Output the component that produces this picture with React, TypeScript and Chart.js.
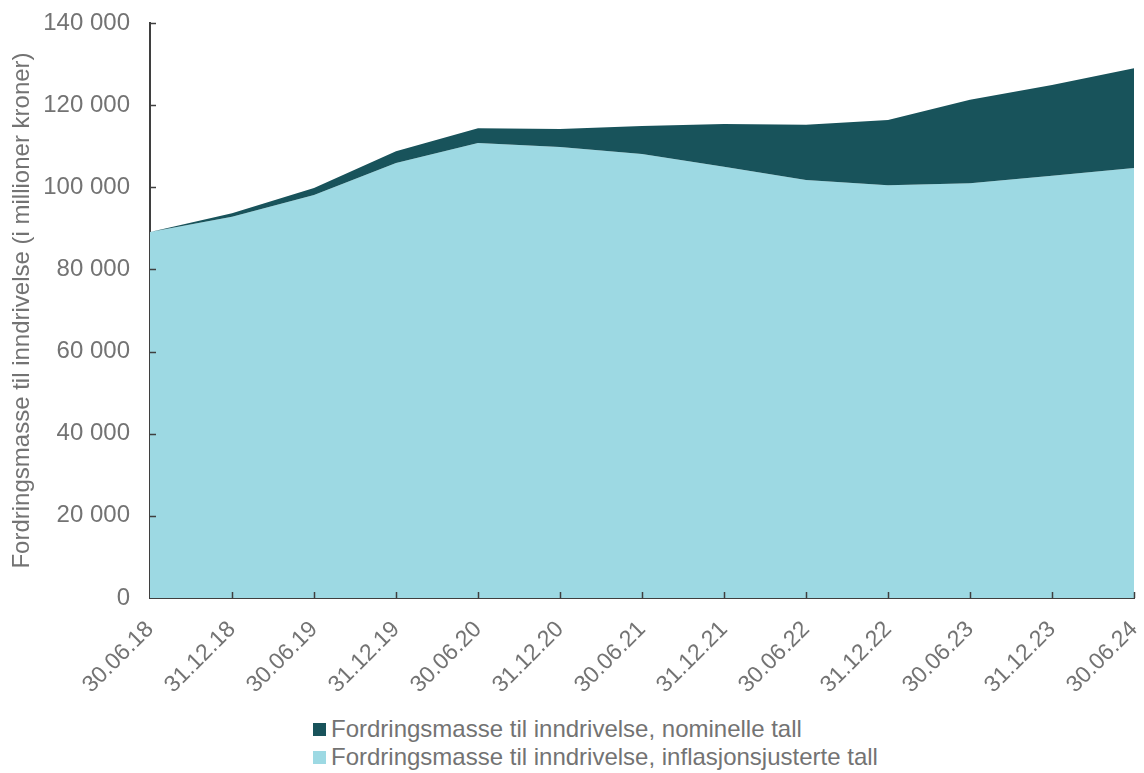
import React, { useEffect, useRef } from "react";
import { Chart, registerables } from "chart.js";

Chart.register(...registerables);

const categories = [
  "30.06.18", "31.12.18", "30.06.19", "31.12.19", "30.06.20", "31.12.20", "30.06.21",
  "31.12.21", "30.06.22", "31.12.22", "30.06.23", "31.12.23", "30.06.24",
];
const nominal = [89100, 93700, 99800, 108800, 114400, 114200, 114900, 115400, 115200, 116400, 121300, 124900, 129000];
const inflationAdjusted = [89100, 92800, 98100, 105900, 110800, 109800, 108100, 105000, 101800, 100500, 101000, 102800, 104700];
const yTicks = [0, 20000, 40000, 60000, 80000, 100000, 120000, 140000];

const seriesNames = [
  "Fordringsmasse til inndrivelse, nominelle tall",
  "Fordringsmasse til inndrivelse, inflasjonsjusterte tall",
];
const yTitle = "Fordringsmasse til inndrivelse (i millioner kroner)";

const DARK = "#18535B";
const LIGHT = "#9DD9E3";
const TEXT = "#737373";
const AXIS = "#3f3f3f";
const FONT = "'Liberation Sans', Arial, sans-serif";

const fmt = (v: number) => String(v).replace(/\B(?=(\d{3})+(?!\d))/g, " ");

const innerTicks = {
  id: "innerTicks",
  afterDraw(chart: any) {
    const { ctx, chartArea, scales } = chart;
    ctx.save();
    ctx.strokeStyle = AXIS;
    ctx.lineWidth = 1.5;
    const y = scales.y;
    yTicks.forEach((t) => {
      if (t === 0) return;
      const py = Math.round(y.getPixelForValue(t)) + 0.5;
      ctx.beginPath();
      ctx.moveTo(chartArea.left, py);
      ctx.lineTo(chartArea.left + 6, py);
      ctx.stroke();
    });
    const x = scales.x;
    categories.forEach((_, i) => {
      if (i === 0) return;
      const px = Math.round(x.getPixelForValue(i)) + 0.5;
      ctx.beginPath();
      ctx.moveTo(px, chartArea.bottom);
      ctx.lineTo(px, chartArea.bottom - 6);
      ctx.stroke();
    });
    ctx.restore();
  },
};

export default function App() {
  const ref = useRef<HTMLCanvasElement>(null);
  useEffect(() => {
    document.body.style.margin = "0";
    const chart = new Chart(ref.current as HTMLCanvasElement, {
      type: "line",
      data: {
        labels: categories,
        datasets: [
          {
            label: seriesNames[0],
            data: nominal,
            backgroundColor: DARK,
            borderColor: DARK,
            borderWidth: 0,
            pointRadius: 0,
            fill: "+1",
            tension: 0,
          },
          {
            label: seriesNames[1],
            data: inflationAdjusted,
            backgroundColor: LIGHT,
            borderColor: LIGHT,
            borderWidth: 0,
            pointRadius: 0,
            fill: "origin",
            tension: 0,
          },
        ],
      },
      options: {
        animation: false,
        responsive: false,
        devicePixelRatio: 1,
        layout: { padding: { left: 0, right: 10, top: 23, bottom: 0 } },
        plugins: { legend: { display: false }, tooltip: { enabled: false } },
        scales: {
          x: {
            offset: false,
            z: 1,
            afterFit: (scale: any) => {
              scale.height = 107;
              scale.paddingRight = 0;
              scale.paddingLeft = 0;
            },
            grid: { display: false, drawTicks: false },
            border: { display: true, color: AXIS, width: 2 },
            ticks: {
              color: TEXT,
              font: { family: FONT, size: 23 },
              maxRotation: 45,
              minRotation: 45,
              autoSkip: false,
              padding: 18,
            },
          },
          y: {
            min: 0,
            max: 140000,
            z: 1,
            afterBuildTicks: (scale: any) => {
              scale.ticks = yTicks.map((v) => ({ value: v }));
            },
            afterFit: (scale: any) => {
              scale.width = 150;
              scale.paddingTop = 0;
              scale.paddingBottom = 0;
            },
            grid: { display: false, drawTicks: false },
            border: { display: true, color: AXIS, width: 2 },
            ticks: {
              color: TEXT,
              font: { family: FONT, size: 24 },
              padding: 20,
              callback: (v: any) => fmt(Number(v)),
            },
            title: {
              display: true,
              text: yTitle,
              color: TEXT,
              font: { family: FONT, size: 24 },
              padding: { top: 8, bottom: 0 },
            },
          },
        },
      },
      plugins: [innerTicks],
    } as any);
    return () => chart.destroy();
  }, []);

  const box = (c: string) => ({
    display: "inline-block",
    width: 13,
    height: 13,
    background: c,
    marginRight: 5,
  });

  return (
    <div style={{ position: "relative", width: 1144, height: 773 }}>
      <canvas ref={ref} width={1144} height={705} style={{ position: "absolute", left: 0, top: 0 }} />
      <div
        style={{
          position: "absolute",
          left: 313,
          top: 715,
          fontFamily: FONT,
          fontSize: 24,
          color: TEXT,
          lineHeight: "28px",
        }}
      >
        <div style={{ display: "flex", alignItems: "center" }}>
          <span style={box(DARK)} />
          {seriesNames[0]}
        </div>
        <div style={{ display: "flex", alignItems: "center" }}>
          <span style={box(LIGHT)} />
          {seriesNames[1]}
        </div>
      </div>
    </div>
  );
}
